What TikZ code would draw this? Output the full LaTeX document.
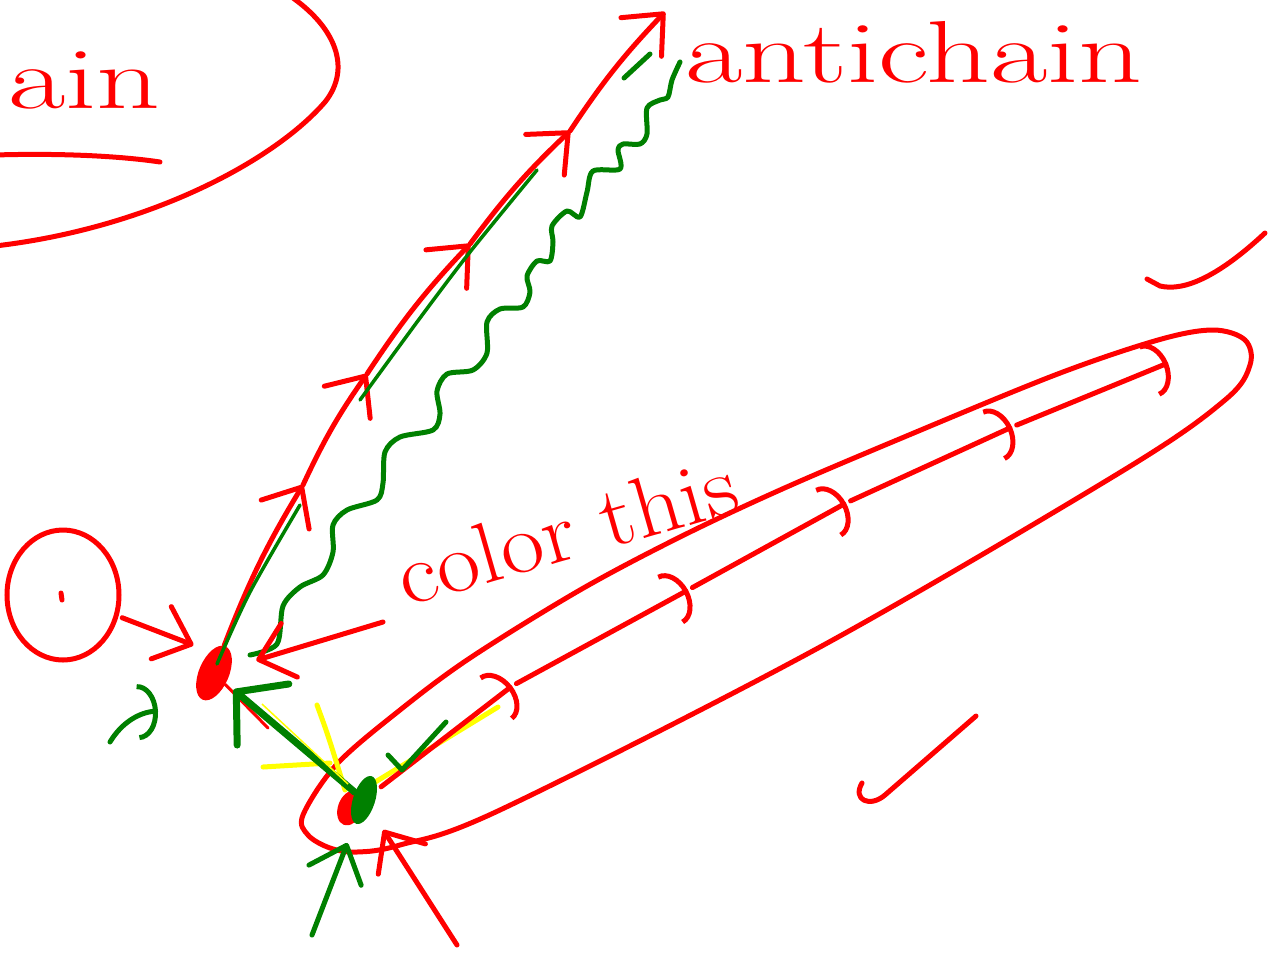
\documentclass[tikz,border=0pt]{standalone}
\usetikzlibrary{arrows.meta,shapes.geometric}
\definecolor{inkred}{HTML}{FF0000}
\definecolor{inkgreen}{HTML}{008000}
\definecolor{inkyellow}{HTML}{FFFF00}
\newcommand{\stretched}[1]{\scalebox{1.42}[1]{#1}}
\tikzset{
  ink/.style={line width=5pt, line cap=round, line join=round},
  redink/.style={ink, draw=inkred},
  greenink/.style={ink, draw=inkgreen},
  yellowink/.style={ink, draw=inkyellow},
  barb/.style={-{Straight Barb[length=32pt,width=56pt,round]}},
  arcbarb/.style={-{Arc Barb[length=20pt,width=56pt]}},
  blob/.style={ellipse, inner sep=0pt},
  hand/.style={text=inkred, inner sep=0pt, font=\fontsize{88}{88}\selectfont},
}
\begin{document}
\begin{tikzpicture}[x=1pt,y=-1pt]
  \useasboundingbox (0,0) rectangle (1276,954);
  \clip (0,0) rectangle (1276,954);
  % the chain, top left
  \draw[redink] (293,-2) .. controls (335,28) and (352,68) .. (325,102)
    .. controls (275,160) and (150,228) .. (-5,246);
  \draw[redink] (-5,155) .. controls (60,153) and (120,156) .. (160,162);
  \node[hand, anchor=base west] (chain) at (8,108) {\stretched{ain}};
  \node[hand, anchor=base west] (antichain) at (685,82) {\stretched{antichain}};
  \node[hand, anchor=base west, rotate=16, font=\fontsize{86}{86}\selectfont] (colorthis) at (406,607) {\scalebox{1.1}[1]{color this}};
  % the long loop
  \draw[redink] plot[smooth cycle, tension=0.55] coordinates {(303,815) (337,764) (400,710) (470,658)
    (580,590) (680,537) (780,490) (897,440) (1055,375) (1158,340) (1213,330) (1245,340) (1250,365)
    (1225,400) (1124,470) (820,647) (500,810) (400,845) (357,852) (330,848) (308,835)};
  % wavy antichain line
  \draw[greenink] plot[smooth, tension=0.5] coordinates {(250,655) (277,644) (283,606) (300,587)
    (323,575) (333,552) (333,525) (347,510) (377,500) (383,483) (385,452) (400,437) (433,430)
    (440,414) (437,391) (447,374) (473,370) (487,353) (487,322) (500,309) (523,307) (530,292)
    (527,276) (537,261) (550,261) (553,242) (552,226) (567,211) (580,217) (587,192) (593,171)
    (620,169) (618,150) (623,144) (640,144) (647,134) (647,108) (660,100) (668,97) (672,80) (680,62)};
  \draw[greenink] (624,78) -- (650,54);
  % yellow marks
  \draw[yellowink] (263,767) -- (330,763);
  \draw[yellowink] (317,705) .. controls (328,735) .. (345,790);
  \draw[yellowink] (372,784) -- (498,707);
  % elements
  \node[draw=inkred, line width=5pt, ellipse, minimum width=112pt, minimum height=130pt] (zero) at (63,595) {};
  \draw[redink] (61,593) -- (62,600);
  \node[blob, fill=inkred, minimum width=58pt, minimum height=30pt, rotate=67] (c0) at (214,673) {};
  \node[blob, fill=inkred, minimum width=36pt, minimum height=24pt, rotate=70] (b0red) at (350,808) {};
  \node[blob, fill=inkgreen, minimum width=50pt, minimum height=22pt, rotate=72] (b0) at (364,800) {};
  \coordinate (c1) at (303,485);
  \coordinate (c2) at (367,374);
  \coordinate (c3) at (470,244);
  \coordinate (c4) at (570,131);
  \coordinate (c5) at (665,12);
  \coordinate (d1) at (512,686);
  \coordinate (d2) at (688,590);
  \coordinate (d3) at (846,503);
  \coordinate (d4) at (1012,427);
  \coordinate (d5) at (1168,363);
  \coordinate (note) at (383,622);
  \coordinate (rt) at (268,728);
  \coordinate (gtail) at (110,742);
  \coordinate (gtip) at (158,711);
  \coordinate (gbot) at (312,935);
  \coordinate (rbot) at (457,945);
  % chains
  \foreach \a/\b in {c0/c1,c1/c2,c2/c3,c3/c4,c4/c5}
    \draw[redink, barb] (\a) to[bend left=5] (\b);
  \draw[greenink, line width=3.5pt] plot[smooth] coordinates {(217,664) (250,592) (300,505)};
  \draw[greenink, line width=3.5pt] plot[smooth] coordinates {(360,400) (420,318) (470,252) (537,170)};
  \foreach \a/\b in {b0/d1,d1/d2,d2/d3,d3/d4,d4/d5}
    \draw[redink, arcbarb, shorten <=5pt] (\a) -- (\b);
  \draw[greenink] (388,755) -- (402,770) -- (446,722);
  % arrows onto the elements
  \draw[redink, line width=3pt] (c0) -- (rt);
  \draw[greenink, line width=7pt, -{Straight Barb[length=35pt,width=80pt,round]}, shorten >=10pt] (b0) -- (c0);
  \draw[inkyellow, line width=1.5pt] (262,704) -- (348,784);
  \draw[redink, barb, shorten >=26pt] (note) -- (c0);
  \draw[redink, barb, shorten <=4pt, shorten >=22pt] (zero) -- ([yshift=20pt]c0.center);
  \draw[greenink, arcbarb] (gtail) .. controls (122,722) and (140,712) .. (gtip);
  \draw[greenink, barb, shorten >=21pt] (gbot) -- (b0);
  \draw[redink, barb, shorten >=22pt] (rbot) -- (b0);
  % ticks
  \draw[redink] (1147,279) -- (1160,286) .. controls (1185,292) and (1220,275) .. (1265,233);
  \draw[redink] (976,716) -- (885,795) .. controls (870,808) and (852,800) .. (862,783);
\end{tikzpicture}
\end{document}
